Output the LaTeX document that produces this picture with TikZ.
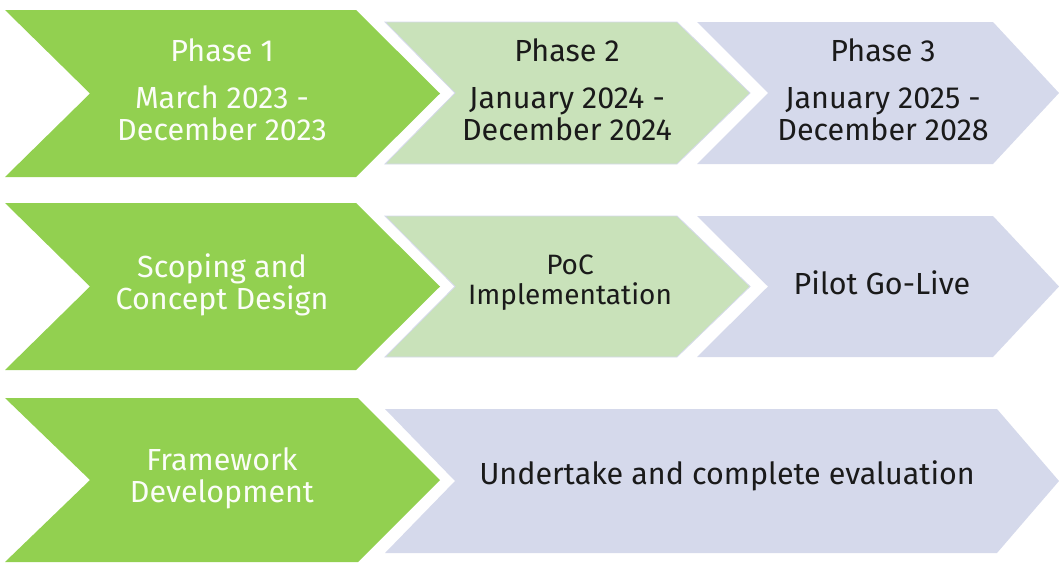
\documentclass[tikz,border=0pt]{standalone}
\usepackage{fontspec}
\setmainfont{Fira Sans}
\definecolor{phasegreen}{HTML}{92D050}
\definecolor{palegreen}{HTML}{C9E2BA}
\definecolor{lavender}{HTML}{D5D9EB}
\definecolor{inkgrey}{HTML}{1A1A1A}

\begin{document}
\begin{tikzpicture}[x=1pt, y=-1pt,
  greenchev/.style={fill=phasegreen},
  palechev/.style={fill=palegreen, draw=lavender, line width=0.8pt},
  lavchev/.style={fill=lavender},
  label/.style={align=center, inner sep=0pt, font=\fontsize{30.5}{32}\selectfont},
  whitelabel/.style={label, text=white!96!phasegreen},
  darklabel/.style={label, text=inkgrey}]
  \useasboundingbox (0,0) rectangle (1059,562);

  % row 1
  \fill[greenchev] (5,10) -- (356,10) -- (440,93.5) -- (356,177) -- (5,177) -- (90,93.5) -- cycle;
  \filldraw[palechev] (385,22) -- (677,22) -- (750,93) -- (677,164) -- (385,164) -- (455,93) -- cycle;
  \fill[lavchev] (697,22) -- (993,22) -- (1059,93) -- (993,164) -- (697,164) -- (768,93) -- cycle;
  \node[whitelabel] (p1) at (222,90) {Phase 1\\[15pt] March 2023 -\\ December 2023};
  \node[darklabel] (p2) at (567,90) {Phase 2\\[15pt] January 2024 -\\ December 2024};
  \node[darklabel] (p3) at (883,90) {Phase 3\\[15pt] January 2025 -\\ December 2028};

  % row 2
  \fill[greenchev] (5,203) -- (356,203) -- (440,286.5) -- (356,370) -- (5,370) -- (90,286.5) -- cycle;
  \filldraw[palechev] (385,216) -- (677,216) -- (750,286.5) -- (677,357) -- (385,357) -- (455,286.5) -- cycle;
  \fill[lavchev] (697,216) -- (993,216) -- (1059,286.5) -- (993,357) -- (697,357) -- (768,286.5) -- cycle;
  \node[whitelabel] (scope) at (222,285) {Scoping and\\ Concept Design};
  \node[darklabel, font=\fontsize{28}{30}\selectfont] (poc) at (570,283) {PoC\\ Implementation};
  \node[darklabel] (pilot) at (882,283) {Pilot Go-Live};

  % row 3
  \fill[greenchev] (5,398) -- (358,398) -- (440,480) -- (358,562) -- (5,562) -- (90,480) -- cycle;
  \fill[lavchev] (385,409) -- (997,409) -- (1059,481) -- (997,553) -- (385,553) -- (455,481) -- cycle;
  \node[whitelabel] (frame) at (222,478) {Framework\\ Development};
  \node[darklabel] (eval) at (727,476) {Undertake and complete evaluation};
\end{tikzpicture}
\end{document}
